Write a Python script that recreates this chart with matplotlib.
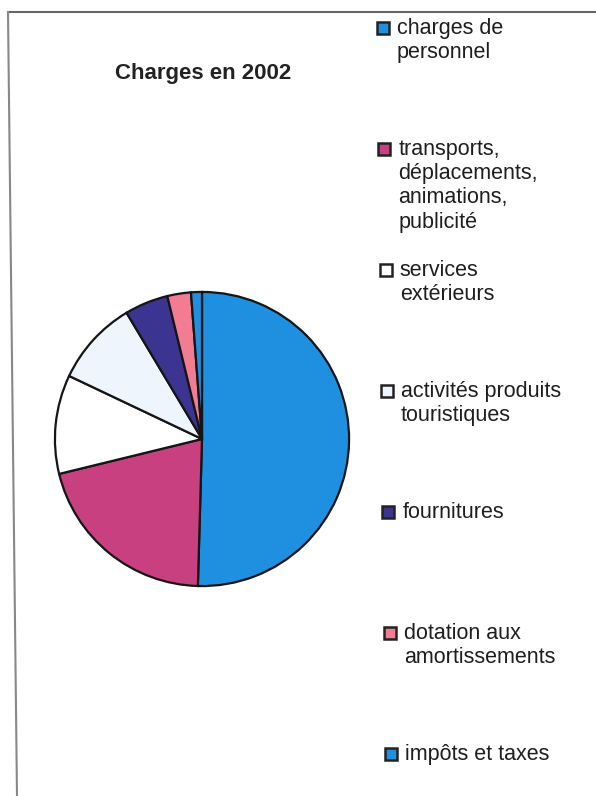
import matplotlib.pyplot as plt
from matplotlib.patches import Rectangle
from matplotlib.lines import Line2D

plt.rcParams['font.family'] = ['Liberation Sans', 'DejaVu Sans']

# Data (share of charges, %)
labels = ['charges de\npersonnel',
          'transports,\ndéplacements,\nanimations,\npublicité',
          'services\nextérieurs',
          'activités produits\ntouristiques',
          'fournitures',
          'dotation aux\namortissements',
          'impôts et taxes']
values = [50.6, 20.8, 10.9, 9.4, 4.8, 2.6, 1.2]
colors = ['#1f8fe0', '#c8407f', '#ffffff', '#eef5fc', '#3b3591', '#f27d92', '#1f8fe0']

W, H = 596, 796
fig = plt.figure(figsize=(W / 100, H / 100), dpi=100)

# pie centre / radius in pixels
cx, cy, r = 202, 439, 150
ax = fig.add_axes([(cx - r) / W, (H - cy - r) / H, 2 * r / W, 2 * r / H])
ax.pie(values, colors=colors, startangle=90, counterclock=False,
       wedgeprops=dict(edgecolor='#151515', linewidth=1.6))
ax.set_xlim(-1.02, 1.02)
ax.set_ylim(-1.02, 1.02)
ax.set_aspect('equal')
ax.axis('off')

fig.text(203 / W, 1 - 73 / H, 'Charges en 2002', ha='center', va='center',
         fontsize=16, fontweight='bold', color='#222222')

# legend, drawn by hand to keep Excel-style even spacing
for i, (lab, col) in enumerate(zip(labels, colors)):
    ytop = 22 + i * 121
    xm = 377 + i * 1.33
    fig.patches.append(Rectangle((xm / W, 1 - (ytop + 12) / H), 12 / W, 12 / H,
                                 transform=fig.transFigure, facecolor=col,
                                 edgecolor='#222222', linewidth=1.8))
    fig.text((xm + 20) / W, 1 - (ytop - 4) / H, lab, ha='left', va='top',
             fontsize=15.5, color='#1e1e1e', linespacing=1.2)

# scanned frame (top and left edges)
fig.add_artist(Line2D([8 / W, 1], [1 - 12 / H, 1 - 12 / H], transform=fig.transFigure,
                      color='#666666', linewidth=1.5))
fig.add_artist(Line2D([8 / W, 17 / W], [1 - 12 / H, 0], transform=fig.transFigure,
                      color='#888888', linewidth=1.5))

fig.savefig('out.png', dpi=100)
